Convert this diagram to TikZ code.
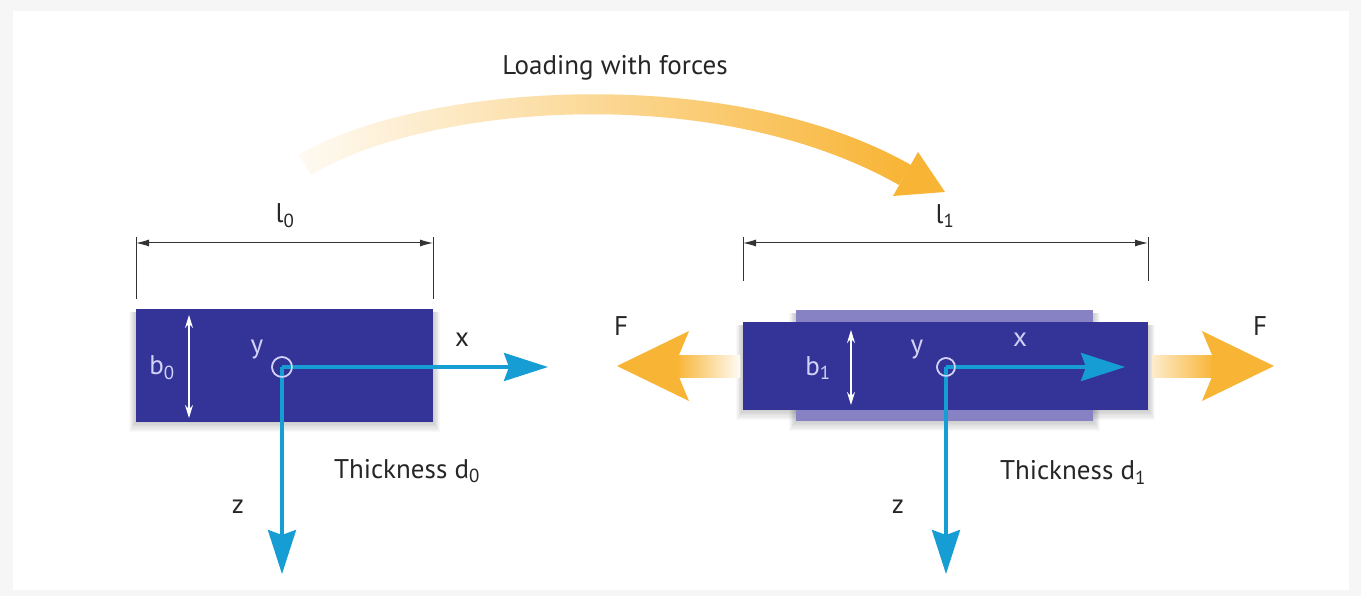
\documentclass[tikz,border=0pt]{standalone}
\usepackage{fontspec}
\setmainfont{PT Sans}
\usetikzlibrary{arrows.meta}
\definecolor{barblue}{RGB}{52,52,152}
\definecolor{barlav}{RGB}{135,130,195}
\definecolor{axcyan}{RGB}{22,158,212}
\definecolor{forange}{RGB}{248,180,52}
\definecolor{lav}{RGB}{210,210,248}
\newcommand{\mysoftshadow}[4]{%
  \foreach \s in {1,...,8}{\fill[black,opacity=0.022] (#1-\s*0.9,#2+3) rectangle (#3+\s*0.9,#4+\s*1.3);}}
\begin{document}
\begin{tikzpicture}[x=1pt,y=-1pt,
  lbl/.style={font=\fontsize{27}{31}\selectfont, text=black!85, inner sep=0pt},
  inlbl/.style={font=\fontsize{27}{31}\selectfont, text=lav, inner sep=0pt},
  dim/.style={draw=black!80, line width=1pt},
  dimarrow/.style={dim, {Latex[length=13pt,width=7pt]}-{Latex[length=13pt,width=7pt]}},
  bwarrow/.style={draw=white, line width=1.3pt, {Stealth[length=13pt,width=8pt]}-{Stealth[length=13pt,width=8pt]}},
  axis/.style={draw=axcyan, line width=3.5pt, -{Stealth[length=44pt,width=28pt,inset=5pt]}},
  bar/.style={fill=barblue, draw=none, inner sep=0pt, rectangle},
  barback/.style={fill=barlav, draw=none, inner sep=0pt, rectangle},
  origin/.style={circle, draw=lav, line width=1.5pt, inner sep=0pt},
]
% background
\fill[gray!7] (0,0) rectangle (1361,596);
\fill[white] (13,11) rectangle (1349,590);
\useasboundingbox (0,0) rectangle (1361,596);

% ---------- curved loading arrow ----------
\shade[left color=forange!6, right color=forange]
  (299,155) .. controls (414,85) and (726,60) .. (911,165)
  -- (899,185) .. controls (714,80) and (426,105) .. (311,175) -- cycle;
\fill[forange] (918,152) -- (945,192) -- (893,196) -- cycle;
\node[lbl] (load) at (615,68) {Loading with forces};

% ---------- left specimen ----------
\mysoftshadow{136}{309}{433}{422}
\node[bar, minimum width=297pt, minimum height=113pt] (bar0) at (284.5,365.5) {};
\coordinate (l0a) at (136,243);
\coordinate (l0b) at (433,243);
\draw[dim] (136,237) -- (136,299);
\draw[dim] (433,237) -- (433,299);
\draw[dimarrow] (l0a) -- (l0b);
\node[lbl] (l0lab) at (285,216) {l\textsubscript{0}};

\coordinate (b0t) at (189,315);
\coordinate (b0b) at (189,418);
\draw[bwarrow] (b0t) -- (b0b);
\node[inlbl] (b0lab) at (162,368) {b\textsubscript{0}};

\node[origin, minimum size=20pt] (o0) at (282,367) {};
\coordinate (x0) at (548,367);
\coordinate (z0) at (282,574);
\draw[axis] (o0.center) -- (x0);
\draw[axis] (o0.center) -- (z0);
\node[origin, minimum size=20pt] at (o0) {};
\node[inlbl] (y0lab) at (257,350) {y};
\node[lbl] (x0lab) at (462,340) {x};
\node[lbl] (z0lab) at (238,507) {z};
\node[lbl] (t0lab) at (407,471) {Thickness d\textsubscript{0}};

% ---------- right specimen ----------
\mysoftshadow{743}{322}{1148}{410}
\mysoftshadow{796}{310}{1093}{421}
\node[barback, minimum width=297pt, minimum height=111pt] (bar1b) at (944.5,365.5) {};
\node[bar, minimum width=405pt, minimum height=88pt] (bar1) at (945.5,366) {};

\coordinate (l1a) at (743,243);
\coordinate (l1b) at (1148,243);
\draw[dim] (743,237) -- (743,281);
\draw[dim] (1148,237) -- (1148,281);
\draw[dimarrow] (l1a) -- (l1b);
\node[lbl] (l1lab) at (945,216) {l\textsubscript{1}};

\coordinate (b1t) at (851,330);
\coordinate (b1b) at (851,405);
\draw[bwarrow] (b1t) -- (b1b);
\node[inlbl] (b1lab) at (818,368) {b\textsubscript{1}};

\node[origin, minimum size=18pt] (o1) at (946,367) {};
\coordinate (x1) at (1125,367);
\coordinate (z1) at (946,574);
\draw[axis] (o1.center) -- (x1);
\draw[axis] (o1.center) -- (z1);
\node[origin, minimum size=18pt] at (o1) {};
\node[inlbl] (y1lab) at (917,350) {y};
\node[inlbl] (x1lab) at (1020,340) {x};
\node[lbl] (z1lab) at (898,507) {z};
\node[lbl] (t1lab) at (1073,472) {Thickness d\textsubscript{1}};

% ---------- force arrows ----------
\shade[left color=forange, right color=forange!5] (676,355) rectangle (740,377);
\fill[forange] (617,366) -- (689,331) -- (679,355) -- (679,377) -- (689,401) -- cycle;
\node[lbl] (fl) at (621,326) {F};

\shade[left color=forange!25, right color=forange] (1152,355) rectangle (1214,377);
\fill[forange] (1274,366) -- (1202,331) -- (1212,355) -- (1212,377) -- (1202,401) -- cycle;
\node[lbl] (fr) at (1260,326) {F};
\end{tikzpicture}
\end{document}
